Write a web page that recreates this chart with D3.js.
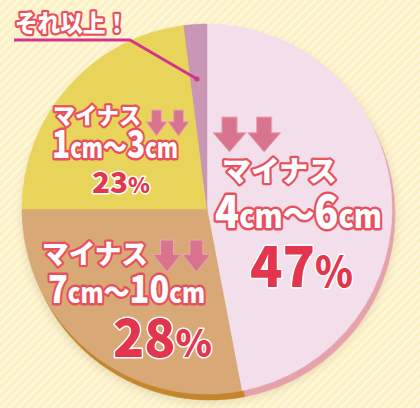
<!DOCTYPE html>
<html>
<head>
<meta charset="utf-8">
<script src="https://cdn.jsdelivr.net/npm/d3@7"></script>
<style>
  body { margin: 0; background: #fdf2c6; }
  text { font-family: "Noto Sans CJK JP", "Noto Sans", sans-serif; font-weight: 900; }
</style>
</head>
<body>
<div id="chart"></div>
<script>
// slices, clockwise from 12 o'clock
const categories = ["マイナス4cm～6cm", "マイナス7cm～10cm", "マイナス1cm～3cm", "それ以上！"];
const values = [47, 28, 23, 2];
const faceColors = ["#f3dfeb", "#d9a877", "#e8d45a", "#c996b5"];
const rimColors = ["#e6a2aa", "#c5852c", "#d2b83e", "#b07a9f"];

var width = 420, height = 408;
var cx = 207, cy = 209, r = 185;

var svg = d3.select("#chart")
  .append("svg")
    .attr("width", width)
    .attr("height", height);

var defs = svg.append("defs");

// striped background
var pat = defs.append("pattern")
  .attr("id", "stripes")
  .attr("width", 6).attr("height", 6)
  .attr("patternUnits", "userSpaceOnUse")
  .attr("patternTransform", "rotate(45)");
pat.append("rect").attr("width", 6).attr("height", 6).attr("fill", "#fdf1c4");
pat.append("rect").attr("width", 2.5).attr("height", 6).attr("fill", "#fef8df");

var blur = defs.append("filter").attr("id", "blur")
  .attr("x", "-20%").attr("y", "-20%").attr("width", "140%").attr("height", "140%");
blur.append("feGaussianBlur").attr("stdDeviation", 5);

svg.append("rect")
  .attr("width", width).attr("height", height)
  .attr("fill", "url(#stripes)");

var pie = d3.pie().sort(null).value(function(d) { return d; });
var arcs = pie(values);
var arc = d3.arc().innerRadius(0).outerRadius(r);

// soft shadow
svg.append("circle")
  .attr("cx", cx + 2).attr("cy", cy + 7).attr("r", r + 2)
  .attr("fill", "#b8a878").attr("opacity", 0.35)
  .attr("filter", "url(#blur)");

// rim (thickness)
svg.append("g")
  .attr("transform", "translate(" + (cx + 3) + "," + (cy + 6) + ")")
  .selectAll("path")
  .data(arcs)
  .enter()
  .append("path")
    .attr("d", arc)
    .attr("fill", function(d, i) { return rimColors[i]; })
    .attr("stroke", function(d, i) { return rimColors[i]; })
    .attr("stroke-width", 0.5);

// face
svg.append("g")
  .attr("transform", "translate(" + cx + "," + cy + ")")
  .selectAll("path")
  .data(arcs)
  .enter()
  .append("path")
    .attr("d", arc)
    .attr("fill", function(d, i) { return faceColors[i]; })
    .attr("stroke", function(d, i) { return faceColors[i]; })
    .attr("stroke-width", 0.5);

// outlined text helper
function label(x, y, size, len, parts, kind) {
  var t = svg.append("text")
    .attr("x", x).attr("y", y)
    .attr("font-size", size)
    .attr("textLength", len)
    .attr("lengthAdjust", "spacingAndGlyphs")
    .style("paint-order", "stroke")
    .attr("stroke-linejoin", "round");
  if (kind == "red") {
    t.attr("fill", "#e3364e").attr("stroke", "#ffffff").attr("stroke-width", 3);
  } else {
    t.attr("fill", "#ffffff").attr("stroke", "#e8505d").attr("stroke-width", size > 30 ? 5 : 4.5);
  }
  parts.forEach(function(p) {
    t.append("tspan").attr("font-size", p[1] * size).text(p[0]);
  });
  return t;
}

// down arrows
function arrows(x, y, w, h) {
  for (var k = 0; k < 2; k++) {
    var x0 = x + k * w * 1.05;
    var sw = w * 0.46, sh = h * 0.45;
    var p = d3.path();
    p.moveTo(x0 + (w - sw) / 2, y);
    p.lineTo(x0 + (w + sw) / 2, y);
    p.lineTo(x0 + (w + sw) / 2, y + sh);
    p.lineTo(x0 + w, y + sh);
    p.lineTo(x0 + w / 2, y + h);
    p.lineTo(x0, y + sh);
    p.lineTo(x0 + (w - sw) / 2, y + sh);
    p.closePath();
    svg.append("path")
      .attr("d", p.toString())
      .attr("fill", "#d8748e")
      .attr("stroke", "#eaa5b6")
      .attr("stroke-width", 1);
  }
}

// callout for the small slice
svg.append("polyline")
  .attr("points", "14,40 130,40 197,79")
  .attr("fill", "none")
  .attr("stroke", "#d2348a")
  .attr("stroke-width", 3)
  .attr("stroke-linejoin", "round");
svg.append("circle").attr("cx", 197).attr("cy", 79).attr("r", 2.5).attr("fill", "#d2348a");
label(15, 32, 24, 113, [["それ以上！", 1]], "white");

// 1-3cm
label(53, 124, 23, 88, [["マイナス", 1]], "white");
arrows(146, 110, 21, 26);
label(52, 158, 38, 126, [["1", 1], ["cm", 0.72], ["～", 0.8], ["3", 1], ["cm", 0.72]], "white");
label(92, 193, 29, 58, [["23", 1], ["%", 0.75]], "red");

// 4-6cm
arrows(213, 117, 33, 35);
label(222, 182, 29, 115, [["マイナス", 1]], "white");
label(215, 228, 45, 167, [["4", 1], ["cm", 0.72], ["～", 0.8], ["6", 1], ["cm", 0.72]], "white");
label(250, 287, 57, 103, [["47", 1], ["%", 0.72]], "red");

// 7-10cm
label(42, 264, 27, 106, [["マイナス", 1]], "white");
arrows(153, 240, 28, 32);
label(48, 303, 38, 157, [["7", 1], ["cm", 0.72], ["～", 0.8], ["10", 1], ["cm", 0.72]], "white");
label(113, 357, 53, 99, [["28", 1], ["%", 0.72]], "red");
</script>
</body>
</html>
